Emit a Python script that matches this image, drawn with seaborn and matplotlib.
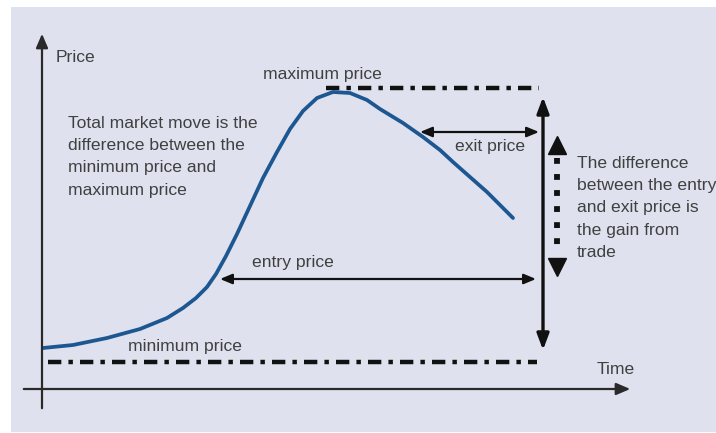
import matplotlib
matplotlib.use("Agg")
import matplotlib.pyplot as plt
import seaborn as sns
import pandas as pd
from matplotlib.patches import Rectangle

sns.set_theme(style="white")
plt.rcParams['font.family'] = ['Liberation Sans', 'DejaVu Sans']

# Price path (schematic units: horizontal time, vertical price drawn downward-positive)
curve_t = [43, 73, 107, 140, 167, 183, 196, 207, 216, 226, 237, 250, 263, 277, 290,
           303, 317, 333, 350, 367, 380, 403, 423, 440, 453, 470, 487, 500, 513]
curve_p = [348, 345, 338, 329, 318, 308, 298, 287, 274, 256, 234, 206, 178, 152, 129,
           111, 98, 92, 93, 100, 109, 123, 137, 150, 162, 177, 192, 205, 218]

max_price_level = 88
min_price_level = 362
entry_level = 279
exit_level = 132

labels_left = "Total market move is the\ndifference between the\nminimum price and\nmaximum price"
labels_right = "The difference\nbetween the entry\nand exit price is\nthe gain from\ntrade"

BG = "#dfe1ee"
TXT = "#404040"
CURVE = "#1d5791"

fig = plt.figure(figsize=(7.16, 4.33), dpi=100)
ax = fig.add_axes([0, 0, 1, 1])
fig.patch.set_facecolor("white")

# curve
df = pd.DataFrame({"t": curve_t, "p": curve_p})
sns.lineplot(data=df, x="t", y="p", ax=ax, color=CURVE, lw=2.7, sort=False,
             estimator=None, zorder=3)
ax.lines[-1].set_solid_joinstyle("round")
ax.set_xlim(0, 716)
ax.set_ylim(433, 0)
ax.axis("off")
ax.add_patch(Rectangle((11, 7), 716, 425, facecolor=BG, edgecolor="none", zorder=0))

# axes arrows
ax.annotate("", xy=(42, 31), xytext=(42, 411),
            arrowprops=dict(arrowstyle="-|>,head_length=0.7,head_width=0.3", color="#2a2a2a", lw=1.6))
ax.annotate("", xy=(633, 389), xytext=(21, 389),
            arrowprops=dict(arrowstyle="-|>,head_length=0.7,head_width=0.3", color="#2a2a2a", lw=1.6))

# max / min dash-dot lines
dd = (0, (3.0, 1.6, 1.0, 1.6))
ax.plot([326, 539], [max_price_level, max_price_level], color="#111111", lw=3.2,
        linestyle=dd, solid_capstyle="butt", dash_capstyle="butt")
ax.plot([48, 537], [min_price_level, min_price_level], color="#111111", lw=3.2,
        linestyle=dd, solid_capstyle="butt", dash_capstyle="butt")

# big vertical double arrow
ax.annotate("", xy=(543, 97), xytext=(543, 350),
            arrowprops=dict(arrowstyle="<|-|>,head_length=0.8,head_width=0.3",
                            color="#111111", lw=2.4, shrinkA=0, shrinkB=0))

# entry / exit arrows
ax.annotate("", xy=(420, exit_level), xytext=(539, exit_level),
            arrowprops=dict(arrowstyle="<|-|>,head_length=0.6,head_width=0.25",
                            color="#111111", lw=1.6, shrinkA=0, shrinkB=0))
ax.annotate("", xy=(220, entry_level), xytext=(536, entry_level),
            arrowprops=dict(arrowstyle="<|-|>,head_length=0.6,head_width=0.25",
                            color="#111111", lw=1.6, shrinkA=0, shrinkB=0))

# dotted gain arrow
ax.plot([557, 557], [158, 254], color="#111111", lw=4.2, linestyle=(0, (1, 1.75)),
        dash_capstyle="butt")
ax.plot([557], [145], marker="^", markersize=13, color="#111111", linestyle="none")
ax.plot([557], [267], marker="v", markersize=13, color="#111111", linestyle="none")

fs = 12.6
ax.text(56, 57, "Price", fontsize=fs, color=TXT, va="center", ha="left")
ax.text(597, 369, "Time", fontsize=fs, color=TXT, va="center", ha="left")
ax.text(263, 74, "maximum price", fontsize=fs, color=TXT, va="center", ha="left")
ax.text(128, 346, "minimum price", fontsize=fs, color=TXT, va="center", ha="left")
ax.text(252, 262, "entry price", fontsize=fs, color=TXT, va="center", ha="left")
ax.text(455, 146, "exit price", fontsize=fs, color=TXT, va="center", ha="left")
ax.text(68, 116, labels_left, fontsize=fs, color=TXT, va="top", ha="left", linespacing=1.6)
ax.text(577, 156, labels_right, fontsize=fs, color=TXT, va="top", ha="left", linespacing=1.6)

fig.savefig("out.png", dpi=100, facecolor="white")
